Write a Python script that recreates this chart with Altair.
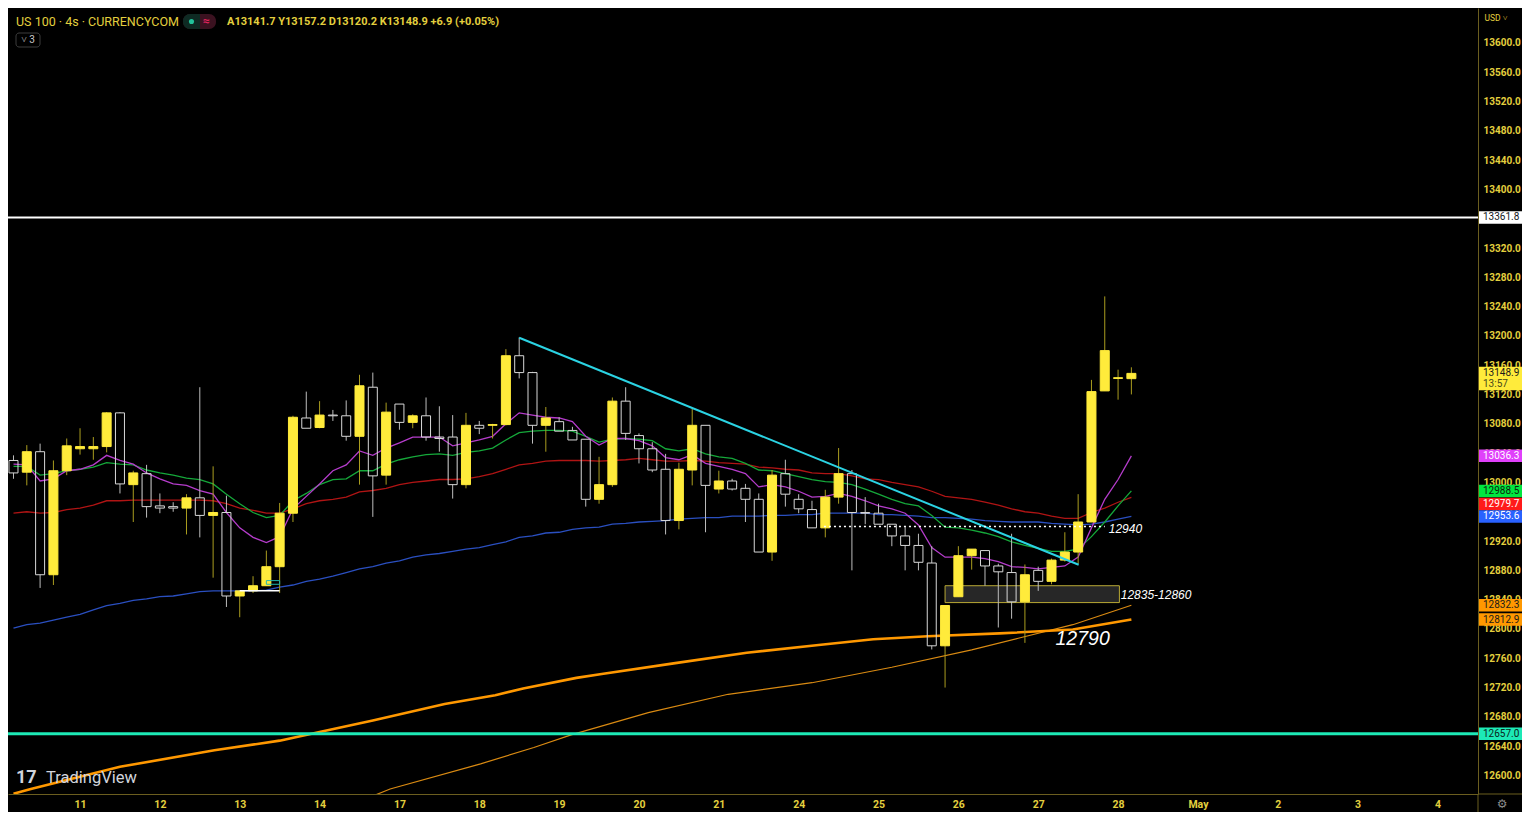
import altair as alt
import pandas as pd

# ---------------- candle data (4h candles, index 0..84) ----------------
opens = [13030, 13014, 13042, 12874, 13016, 13046, 13046, 13049, 13095, 12997,
         13012, 12968, 12967, 12965, 12979, 12955, 12959, 12845, 12852, 12859,
         12885, 12958, 13088, 13075, 13092, 13091, 13063, 13130, 13010, 13107,
         13082, 13091, 13062, 13062, 12997, 13078, 13078, 13079, 13173, 13150,
         13078, 13083, 13071, 13059, 12977, 12997, 13111, 13064, 13046, 13018,
         12948, 13017, 13078, 12991, 13002, 12992, 12977, 12905, 13012, 12977,
         12963, 12938, 12980, 13012, 12959, 12958, 12943, 12927, 12914, 12890,
         12777, 12844, 12900, 12907, 12886, 12877, 12837, 12880, 12865, 12894,
         12905, 12946, 13125, 13142, 13141.7]
highs = [13037, 13051, 13053, 13030, 13060, 13074, 13062, 13096, 13096, 13016,
         13024, 12985, 12973, 12984, 13130, 13022, 12982, 12852, 12872, 12907,
         12972, 13091, 13124, 13111, 13099, 13112, 13147, 13150, 13109, 13107,
         13093, 13116, 13104, 13092, 13095, 13084, 13080, 13182, 13198, 13151,
         13103, 13089, 13076, 13059, 13035, 13116, 13130, 13067, 13055, 13039,
         13027, 13101, 13078, 13016, 13005, 12998, 12985, 13017, 13031, 12984,
         12975, 12990, 13047, 13017, 12980, 12971, 12943, 12939, 12930, 12913,
         12832, 12913, 12909, 12907, 12889, 12930, 12888, 12885, 12896, 12932,
         12984, 13140, 13254, 13154, 13157.2]
lows = [13005, 12996, 12856, 12860, 13010, 13038, 13031, 13041, 12985, 12946,
        12952, 12958, 12960, 12929, 12925, 12870, 12830, 12816, 12849, 12859,
        12849, 12946, 13074, 13074, 13084, 13057, 12997, 12953, 12997, 13072,
        13074, 13057, 13042, 12978, 12992, 13066, 13060, 13078, 13142, 13053,
        13042, 13070, 13058, 12967, 12971, 12994, 13058, 13026, 13014, 12929,
        12936, 12996, 12932, 12985, 12989, 12946, 12905, 12893, 12967, 12958,
        12938, 12925, 12971, 12880, 12943, 12943, 12913, 12880, 12880, 12772,
        12720, 12844, 12881, 12859, 12802, 12814, 12781, 12852, 12861, 12892,
        12889, 12946, 13125, 13113, 13120.2]
closes = [13013, 13042, 12874, 13016, 13050, 13049, 13049, 13095, 12998, 13013,
          12967, 12965, 12965, 12979, 12955, 12959, 12845, 12852, 12859, 12885,
          12958, 13089, 13074, 13092, 13091, 13063, 13132, 13009, 13096, 13082,
          13091, 13062, 13060, 12997, 13078, 13074, 13079, 13173, 13150, 13078,
          13088, 13070, 13058, 12977, 12997, 13111, 13067, 13046, 13017, 12948,
          13018, 13078, 12996, 13002, 12991, 12977, 12905, 13010, 12984, 12964,
          12938, 12980, 13012, 12959, 12958, 12943, 12927, 12914, 12891, 12777,
          12832, 12900, 12909, 12886, 12878, 12837, 12874, 12865, 12894, 12905,
          12946, 13124, 13180, 13143, 13148.9]

# ---------------- moving averages ----------------
ma_magenta = [13025, 13024, 13002, 13005, 13016, 13018, 13024, 13037, 13030, 13025,
              13013, 13005, 12998, 12996, 12989, 12984, 12959, 12938, 12925, 12918,
              12926, 12964, 12981, 12998, 13016, 13024, 13043, 13037, 13047, 13054,
              13062, 13062, 13062, 13050, 13054, 13058, 13063, 13080, 13095, 13092,
              13089, 13088, 13083, 13063, 13051, 13060, 13060, 13057, 13050, 13034,
              13031, 13038, 13026, 13022, 13018, 13012, 12994, 12997, 12994, 12988,
              12980, 12981, 12985, 12981, 12975, 12968, 12964, 12958, 12942, 12911,
              12898, 12898, 12898, 12896, 12892, 12885, 12884, 12882, 12884, 12886,
              12898, 12938, 12977, 13004, 13036.3]
ma_green = [13022, 13022, 13010, 13012, 13016, 13018, 13021, 13027, 13025, 13024,
            13017, 13013, 13010, 13006, 13004, 12998, 12984, 12971, 12959, 12952,
            12955, 12975, 12985, 12997, 13004, 13005, 13016, 13016, 13025, 13031,
            13035, 13038, 13039, 13037, 13041, 13043, 13047, 13058, 13068, 13070,
            13071, 13071, 13070, 13063, 13055, 13059, 13060, 13059, 13057, 13046,
            13043, 13046, 13039, 13035, 13033, 13026, 13017, 13016, 13012, 13008,
            13004, 13001, 13000, 12997, 12991, 12984, 12977, 12971, 12968, 12955,
            12939, 12938, 12935, 12931, 12926, 12919, 12914, 12910, 12906, 12906,
            12909, 12926, 12946, 12968, 12988.5]
ma_red = [12958, 12960, 12958, 12959, 12963, 12965, 12969, 12975, 12975, 12976,
          12976, 12976, 12976, 12976, 12976, 12975, 12971, 12965, 12962, 12958,
          12958, 12964, 12971, 12975, 12977, 12980, 12987, 12989, 12992, 12997,
          13000, 13002, 13004, 13004, 13005, 13008, 13012, 13018, 13024, 13026,
          13029, 13030, 13030, 13030, 13029, 13030, 13031, 13033, 13031, 13029,
          13029, 13030, 13029, 13027, 13026, 13025, 13021, 13020, 13018, 13017,
          13013, 13012, 13012, 13009, 13005, 13004, 13000, 12997, 12994, 12988,
          12981, 12979, 12977, 12973, 12969, 12964, 12960, 12958, 12954, 12951,
          12951, 12959, 12965, 12973, 12979.7]
ma_blue = [12801, 12806, 12808, 12812, 12816, 12820, 12826, 12832, 12835, 12839,
           12841, 12844, 12845, 12848, 12851, 12852, 12852, 12852, 12852, 12853,
           12857, 12860, 12865, 12868, 12872, 12877, 12882, 12885, 12890, 12893,
           12898, 12901, 12903, 12906, 12909, 12911, 12915, 12919, 12925, 12927,
           12931, 12932, 12936, 12938, 12939, 12943, 12944, 12946, 12947, 12948,
           12950, 12951, 12952, 12952, 12954, 12954, 12954, 12955, 12955, 12956,
           12956, 12958, 12958, 12958, 12958, 12956, 12956, 12955, 12954, 12952,
           12952, 12951, 12950, 12948, 12947, 12946, 12946, 12946, 12944, 12943,
           12942, 12943, 12946, 12950, 12953.6]
sma_thick_idx = [0, 1.3, 8, 15.1, 20, 23, 27, 32.4, 36.2, 38.3, 42.3, 44.2, 49.6,
                 55.1, 60.5, 64.6, 68.7, 74.1, 79.6, 84]
sma_thick_val = [12575, 12581.5, 12611.8, 12634.3, 12647.5, 12659.3, 12675.1, 12697.6,
                 12709.5, 12718.7, 12733.2, 12738.5, 12753.0, 12767.5, 12778.1, 12786.0,
                 12790.0, 12793.9, 12799.2, 12812.9]
sma_thin_idx = [26.6, 28.3, 35.1, 39.1, 41.9, 47.7, 53.7, 60, 66, 72, 75.5, 79.6, 84]
sma_thin_val = [12569, 12581.5, 12615.8, 12638.2, 12655.4, 12685.7, 12710.8, 12726.6,
                12747.7, 12771.5, 12787.3, 12805.8, 12832.3]

# ---------------- axes ----------------
day_tick_idx = [5, 11, 17, 23, 29, 35, 41, 47, 53, 59, 65, 71, 77, 83, 89, 95, 101, 107]
day_labels = ["11", "12", "13", "14", "17", "18", "19", "20", "21", "24", "25", "26",
              "27", "28", "May", "2", "3", "4"]
price_ticks = list(range(12600, 13601, 40))

# ---------------- drawings ----------------
level_white = 13361.8
level_teal = 12657.0
trend_idx = [38, 80.04]
trend_val = [13197.6, 12887.6]
dotted_idx = [60.9, 82.0]
dotted_val = 12940
zone_idx = [70.0, 83.1]
zone_val = [12836, 12859]
small_seg_idx = [17, 20]
small_seg_val = 12852
small_box_idx = [19.0, 20.0]
small_box_val = [12861, 12866]
note_texts = ["12940", "12835-12860", "12790"]
note_idx = [82.3, 83.2, 78.3]
note_val = [12937, 12846, 12786]
note_size = [12, 12, 19.5]

tag_text = ["13361.8", "13036.3", "12988.5", "12979.7", "12953.6", "12832.3", "12812.9", "12657.0"]
tag_pos = [13361.8, 13036.3, 12988.5, 12970.7, 12953.6, 12832.3, 12812.9, 12657.0]
tag_bg = ["#ffffff", "#e040fb", "#00e640", "#ff1a1a", "#2962ff", "#ff9800", "#ff9800", "#1de9b6"]
tag_fg = ["#131722", "#ffffff", "#0b1f0b", "#ffffff", "#ffffff", "#1a1a1a", "#1a1a1a", "#0b1f1a"]
last_tag_pos = 13142
last_time = "13:57"
day_change = "+6.9 (+0.05%)"

# ---------------- layout / style ----------------
W, H = 1470, 786
X_DOMAIN = [-0.037, 109.67]
Y_DOMAIN = [12581.5, 13640.9]
TXT_YELLOW = "#e3cf3e"
OLIVE = "#6b5e1f"
FONT = "Roboto"

xscale = alt.Scale(domain=X_DOMAIN, nice=False, zero=False)
yscale = alt.Scale(domain=Y_DOMAIN, nice=False, zero=False)
label_expr = ("[" + ",".join(f"'{s}'" for s in day_labels) + "][indexof("
              + str(day_tick_idx) + ", datum.value)]")
xaxis = alt.Axis(orient="bottom", values=day_tick_idx, labelExpr=label_expr, title=None,
                 grid=False, ticks=False, domainColor=OLIVE, labelColor=TXT_YELLOW,
                 labelFont=FONT, labelFontSize=10.5, labelFontWeight="bold", labelPadding=5,
                 labelFlush=False, labelOverlap=False)
yaxis = alt.Axis(orient="right", values=price_ticks, format=".1f", title=None, grid=False,
                 ticks=False, domainColor=OLIVE, labelColor=TXT_YELLOW, labelFont=FONT,
                 labelFontSize=10, labelFontWeight="bold", labelPadding=5, labelFlush=False,
                 labelOverlap=False)


def X(f):
    return alt.X(f"{f}:Q", scale=xscale, axis=xaxis)


def Y(f):
    return alt.Y(f"{f}:Q", scale=yscale, axis=yaxis)


one = pd.DataFrame({"k": [0]})


def ptext(text, x, y, size, color, weight="normal", align="left", style="normal", font=FONT):
    return alt.Chart(one).mark_text(text=text, align=align, baseline="middle", fontSize=size,
                                    color=color, fontWeight=weight, fontStyle=style,
                                    font=font).encode(x=alt.value(x), y=alt.value(y))


def prect(x0, x1, y0, y1, **kw):
    return alt.Chart(one).mark_rect(**kw).encode(x=alt.value(x0), x2=alt.value(x1),
                                                 y=alt.value(y0), y2=alt.value(y1))


layers = []

# zone box
zone_df = pd.DataFrame({"x0": [zone_idx[0]], "x1": [zone_idx[1]], "y0": [zone_val[0]], "y1": [zone_val[1]]})
layers.append(alt.Chart(zone_df).mark_rect(fill="#2b2b2b", fillOpacity=0.9, stroke="#b9a935",
                                           strokeWidth=1).encode(x=X("x0"), x2="x1", y=Y("y0"), y2="y1"))


# moving averages
def ma_layer(idxs, vals, color, width, clip=False):
    df = pd.DataFrame({"i": idxs, "v": vals})
    return alt.Chart(df).mark_line(color=color, strokeWidth=width, clip=clip).encode(x=X("i"), y=Y("v"))


n = len(opens)
idx = list(range(n))
layers.append(ma_layer(sma_thin_idx, sma_thin_val, "#d98a12", 1.2, clip=True))
layers.append(ma_layer(sma_thick_idx, sma_thick_val, "#ff9800", 2.6, clip=True))
layers.append(ma_layer(idx, ma_blue, "#2a4fc0", 1.3))
layers.append(ma_layer(idx, ma_red, "#b01414", 1.3))
layers.append(ma_layer(idx, ma_green, "#15a83a", 1.3))
layers.append(ma_layer(idx, ma_magenta, "#b53ccb", 1.3))

# candles
cdf = pd.DataFrame({"i": idx, "open": opens, "high": highs, "low": lows, "close": closes})
up = cdf[cdf["close"] >= cdf["open"]]
dn = cdf[cdf["close"] < cdf["open"]]
layers.append(alt.Chart(up).mark_rule(color="#aa9d1f", strokeWidth=1).encode(x=X("i"), y=Y("low"), y2="high"))
layers.append(alt.Chart(dn).mark_rule(color="#bdbdbd", strokeWidth=1).encode(x=X("i"), y=Y("high"), y2="open"))
layers.append(alt.Chart(dn).mark_rule(color="#bdbdbd", strokeWidth=1).encode(x=X("i"), y=Y("close"), y2="low"))
layers.append(alt.Chart(up).mark_bar(size=9, fill="#ffeb3b", stroke="#ffeb3b", strokeWidth=1)
              .encode(x=X("i"), y=Y("open"), y2="close"))
layers.append(alt.Chart(dn).mark_bar(size=9, fill="#000000", fillOpacity=0, stroke="#d8d8d8", strokeWidth=1)
              .encode(x=X("i"), y=Y("open"), y2="close"))

# drawings
trend_df = pd.DataFrame({"x0": [trend_idx[0]], "x1": [trend_idx[1]], "y0": [trend_val[0]], "y1": [trend_val[1]]})
layers.append(alt.Chart(trend_df).mark_rule(color="#2bd3e3", strokeWidth=2)
              .encode(x=X("x0"), x2="x1", y=Y("y0"), y2="y1"))
layers.append(alt.Chart(pd.DataFrame({"v": [level_white]})).mark_rule(color="#ffffff", strokeWidth=2)
              .encode(y=Y("v")))
layers.append(alt.Chart(pd.DataFrame({"v": [level_teal]})).mark_rule(color="#1de9b6", strokeWidth=3)
              .encode(y=Y("v")))
dot_df = pd.DataFrame({"x0": [dotted_idx[0]], "x1": [dotted_idx[1]], "v": [dotted_val]})
layers.append(alt.Chart(dot_df).mark_rule(color="#ffffff", strokeWidth=1.5, strokeDash=[2, 3])
              .encode(x=X("x0"), x2="x1", y=Y("v")))
seg_df = pd.DataFrame({"x0": [small_seg_idx[0]], "x1": [small_seg_idx[1]], "v": [small_seg_val]})
layers.append(alt.Chart(seg_df).mark_rule(color="#ffffff", strokeWidth=1.5)
              .encode(x=X("x0"), x2="x1", y=Y("v")))
sb_df = pd.DataFrame({"x0": [small_box_idx[0]], "x1": [small_box_idx[1]], "y0": [small_box_val[0]], "y1": [small_box_val[1]]})
layers.append(alt.Chart(sb_df).mark_rect(fillOpacity=0, stroke="#1fb5b0", strokeWidth=1)
              .encode(x=X("x0"), x2="x1", y=Y("y0"), y2="y1"))
note_df = pd.DataFrame({"t": note_texts, "i": note_idx, "v": note_val, "s": note_size})
layers.append(alt.Chart(note_df).mark_text(align="left", baseline="middle", color="#ffffff",
                                           fontStyle="italic", font="Liberation Sans")
              .encode(x=X("i"), y=Y("v"), text="t:N", size=alt.Size("s:Q", scale=None)))

# right-axis price tags
tag_df = pd.DataFrame({"t": tag_text, "pos": tag_pos, "bg": tag_bg, "fg": tag_fg})
layers.append(alt.Chart(tag_df).mark_bar(orient="horizontal", size=12.5)
              .encode(y=Y("pos"), x=alt.value(W + 1), x2=alt.value(W + 44),
                      color=alt.Color("bg:N", scale=None)))
layers.append(alt.Chart(tag_df).mark_text(align="left", baseline="middle", font=FONT, fontSize=10)
              .encode(y=Y("pos"), x=alt.value(W + 5), text="t:N", color=alt.Color("fg:N", scale=None)))
last_df = pd.DataFrame({"pos": [last_tag_pos], "t": [f"{closes[-1]:.1f}"], "tm": [last_time]})
layers.append(alt.Chart(last_df).mark_bar(orient="horizontal", size=23.5, color="#ffeb3b")
              .encode(y=Y("pos"), x=alt.value(W + 1), x2=alt.value(W + 44)))
layers.append(alt.Chart(last_df).mark_text(align="left", baseline="middle", font=FONT, fontSize=10,
                                           color="#1a1a1a", dy=-5.5)
              .encode(y=Y("pos"), x=alt.value(W + 5), text="t:N"))
layers.append(alt.Chart(last_df).mark_text(align="left", baseline="middle", font=FONT, fontSize=10,
                                           color="#4a4a1a", dy=6)
              .encode(y=Y("pos"), x=alt.value(W + 5), text="tm:N"))

# header
ohlc_text = (f"A{opens[-1]:.1f} Y{highs[-1]:.1f} D{lows[-1]:.1f} K{closes[-1]:.1f} {day_change}")
layers.append(ptext("US 100 · 4s · CURRENCYCOM", 8, 14, 12.5, TXT_YELLOW))
layers.append(prect(175, 208, 6, 21, cornerRadius=7, fill="#3b1220"))
layers.append(prect(175, 192, 6, 21, cornerRadius=7, fill="#0e2a23"))
layers.append(prect(185, 192, 6, 21, fill="#0e2a23"))
layers.append(alt.Chart(one).mark_circle(size=26, color="#22c29a", opacity=1)
              .encode(x=alt.value(183.5), y=alt.value(13.5)))
layers.append(ptext("≈", 198.5, 13, 12, "#e0245e", weight="bold", align="center"))
layers.append(ptext(ohlc_text, 219, 14, 11, TXT_YELLOW, weight="bold"))
layers.append(prect(8, 32, 25, 39, cornerRadius=3, fill="#000000", stroke="#3c3c3c", strokeWidth=1))
layers.append(ptext("˅ 3", 20, 32, 10, "#c8c8c8", align="center"))
layers.append(ptext("USD ˅", W + 18, 10, 8.5, TXT_YELLOW, align="center"))

# footer / misc
layers.append(ptext("17", 8, H - 16, 18, "#d1d4dc", weight="bold"))
layers.append(ptext("TradingView", 38, H - 16, 16.5, "#d1d4dc"))
layers.append(ptext("⚙", W + 24, H + 10, 12, "#8a8a8a", align="center", font="DejaVu Sans"))
layers.append(alt.Chart(one).mark_rule(color=OLIVE).encode(x=alt.value(W), y=alt.value(H), y2=alt.value(H + 20)))
layers.append(alt.Chart(one).mark_rule(color=OLIVE).encode(x=alt.value(W), x2=alt.value(W + 44), y=alt.value(H)))

chart = (alt.layer(*layers)
         .properties(width=W, height=H, background="#000000",
                     padding={"left": 0, "top": 0, "right": 44, "bottom": 18},
                     autosize=alt.AutoSizeParams(type="none"))
         .configure_view(stroke=None))

chart.save("out.html", embed_options={"renderer": "svg", "actions": False})
